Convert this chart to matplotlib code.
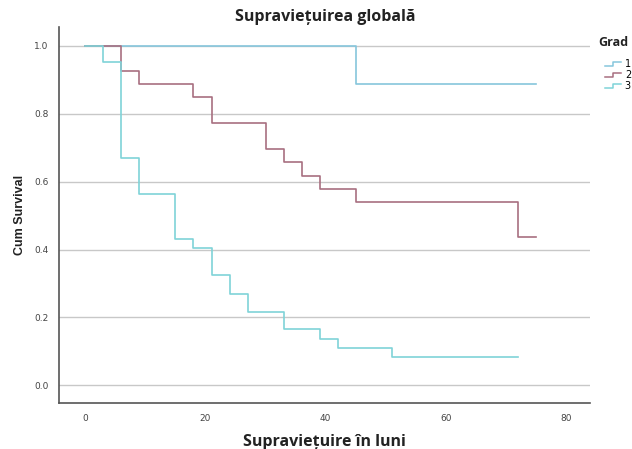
import matplotlib
matplotlib.use("Agg")
import matplotlib.pyplot as plt
from matplotlib.lines import Line2D
from matplotlib.legend_handler import HandlerBase

# Kaplan-Meier curves (luni, cum survival)
grad1_t = [0, 45, 75]
grad1_s = [1.0, 0.889, 0.889]

grad2_t = [0, 6, 9, 18, 21, 30, 33, 36, 39, 45, 72, 75]
grad2_s = [1.0, 0.926, 0.888, 0.849, 0.772, 0.696, 0.657, 0.617, 0.578, 0.539, 0.436, 0.436]

grad3_t = [0, 3, 6, 9, 15, 18, 21, 24, 27, 33, 39, 42, 51, 72]
grad3_s = [1.0, 0.953, 0.669, 0.565, 0.430, 0.403, 0.324, 0.270, 0.215, 0.165, 0.137, 0.110, 0.084, 0.084]

grupe = ["1", "2", "3"]
culori = ["#86c6dc", "#a86f80", "#7fd3d8"]

x_ticks = [0, 20, 40, 60, 80]
y_ticks = [0.0, 0.2, 0.4, 0.6, 0.8, 1.0]


class StepHandler(HandlerBase):
    # mic simbol in trepte, ca in legenda SPSS
    def create_artists(self, legend, orig_handle, xdescent, ydescent,
                       width, height, fontsize, trans):
        xs = [0, width * 0.5, width * 0.5, width]
        ys = [height * 0.15, height * 0.15, height * 0.75, height * 0.75]
        l = Line2D(xs, ys, color=orig_handle.get_color(), lw=1.1, transform=trans)
        return [l]


fig = plt.figure(figsize=(6.32, 4.49), dpi=100)
ax = fig.add_axes([0.094, 0.102, 0.84, 0.838])

lines = []
for t, s, c, g in zip([grad1_t, grad2_t, grad3_t], [grad1_s, grad2_s, grad3_s], culori, grupe):
    ln, = ax.step(t, s, where="post", color=c, lw=1.2, label=g, zorder=3)
    lines.append(ln)

ax.set_xlim(-4.3, 84)
ax.set_ylim(-0.053, 1.056)
ax.set_xticks(x_ticks)
ax.set_yticks(y_ticks)
ax.set_xticklabels([str(v) for v in x_ticks], fontsize=6.5, color="#444444")
ax.set_yticklabels(["%.1f" % v for v in y_ticks], fontsize=6.5, color="#444444")
ax.tick_params(length=0, pad=8)
ax.grid(axis="y", color="#c8c8c8", lw=1.0)
ax.set_axisbelow(True)
for sp in ["top", "right"]:
    ax.spines[sp].set_visible(False)
ax.spines["left"].set_color("#555555")
ax.spines["bottom"].set_color("#555555")
ax.spines["left"].set_linewidth(1.2)
ax.spines["bottom"].set_linewidth(1.2)

ax.set_title("Supraviețuirea globală", fontsize=11.5, fontweight="bold",
             family=["Open Sans", "DejaVu Sans"], color="#222222", pad=4)
ax.set_xlabel("Supraviețuire în luni", fontsize=11.5, fontweight="bold",
              family=["Open Sans", "DejaVu Sans"], color="#222222", labelpad=8)
ax.set_ylabel("Cum Survival", fontsize=9, fontweight="bold",
              family=["Liberation Sans", "DejaVu Sans"], color="#222222", labelpad=6)

# titlul legendei separat, ca sa las spatiu pana la intrari
fig.text(598 / 632, 1 - 42 / 449, "Grad", fontsize=9, fontweight="bold",
         family=["Open Sans", "DejaVu Sans"], color="#222222", va="center", ha="left")
leg = fig.legend(handles=lines, labels=grupe,
                 handler_map={Line2D: StepHandler()},
                 loc="upper left", bbox_to_anchor=(600 / 632, 1 - 54 / 449),
                 frameon=False, fontsize=7, handlelength=1.7, handletextpad=0.35,
                 labelspacing=0.1, borderpad=0)

fig.savefig("out.png", dpi=100)
